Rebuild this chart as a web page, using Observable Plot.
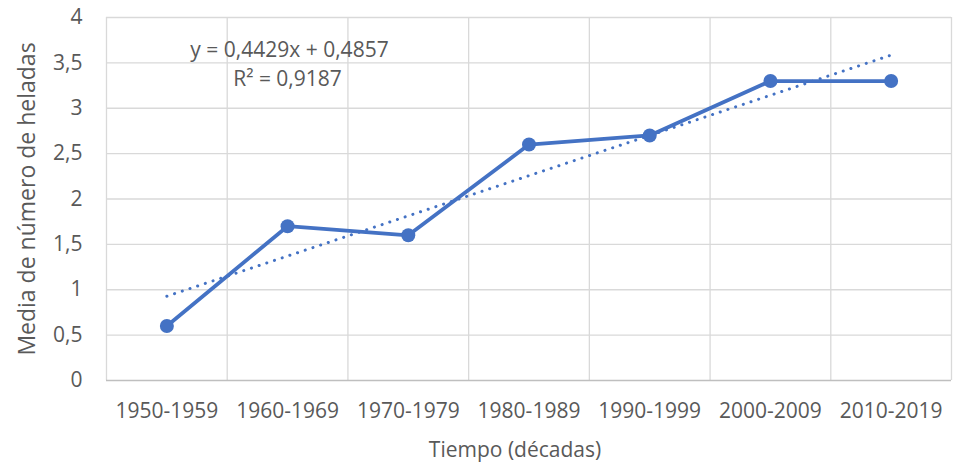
<!DOCTYPE html>
<html>
<head>
<meta charset="utf-8">
<script src="https://cdn.jsdelivr.net/npm/d3@7"></script>
<script src="https://cdn.jsdelivr.net/npm/@observablehq/plot@0.6"></script>
<style>
  html, body { margin: 0; padding: 0; background: #fff; }
  #chart svg { display: block; }
</style>
</head>
<body>
<div id="chart"></div>
<script>
const decades = ["1950-1959", "1960-1969", "1970-1979", "1980-1989", "1990-1999", "2000-2009", "2010-2019"];
const heladas = [0.6, 1.7, 1.6, 2.6, 2.7, 3.3, 3.3];
const yTicks = [0, 0.5, 1, 1.5, 2, 2.5, 3, 3.5, 4];
const eqText = "y = 0,4429x + 0,4857";
const r2Text = "R² = 0,9187";
const xTitle = "Tiempo (décadas)";
const yTitle = "Media de número de heladas";

const data = decades.map((d, i) => ({i: i + 1, decade: d, v: heladas[i]}));
const xGrid = decades.map((d, i) => i + 0.5).concat([decades.length + 0.5]);
const fmt = d => String(d).replace(".", ",");

const blue = "#4472c4";
const txt = "#595959";

const chart = Plot.plot({
  width: 962,
  height: 468,
  marginLeft: 106,
  marginRight: 11,
  marginTop: 17,
  marginBottom: 88,
  style: {fontFamily: "'Open Sans', sans-serif", fontSize: "21px", color: txt, background: "#fff"},
  x: {domain: [0.5, decades.length + 0.5]},
  y: {domain: [0, 4]},
  marks: [
    Plot.ruleY(yTicks.filter(d => d > 0), {stroke: "#d9d9d9", strokeWidth: 1.3, strokeOpacity: 1}),
    Plot.ruleX(xGrid, {stroke: "#d9d9d9", strokeWidth: 1.3, strokeOpacity: 1}),
    Plot.ruleY([0], {stroke: "#bfbfbf", strokeWidth: 1.3, strokeOpacity: 1}),
    Plot.axisY({ticks: yTicks, tickFormat: fmt, tickSize: 0, tickPadding: 24, fill: txt, fontSize: 21, label: null}),
    Plot.axisY({ticks: [], tickSize: 0, label: yTitle, labelAnchor: "center", labelArrow: "none", labelOffset: 88, fill: txt, fontSize: 23}),
    Plot.axisX({ticks: data.map(d => d.i), tickFormat: (d) => decades[d - 1], tickSize: 0, tickPadding: 23, fill: txt, fontSize: 21, label: null}),
    Plot.text([xTitle], {frameAnchor: "bottom", dx: -14, dy: 70, textAnchor: "middle", lineAnchor: "middle", fill: txt, fontSize: 21}),
    Plot.linearRegressionY(data, {x: "i", y: "v", ci: 0, stroke: blue, strokeWidth: 3, strokeDasharray: "0.1 8", strokeLinecap: "round"}),
    Plot.line(data, {x: "i", y: "v", stroke: blue, strokeWidth: 3.8}),
    Plot.dot(data, {x: "i", y: "v", r: 7, fill: blue, stroke: "none"}),
    Plot.text([eqText], {frameAnchor: "top-left", dx: 183, dy: 33, textAnchor: "middle", lineAnchor: "middle", fill: txt, fontSize: 21}),
    Plot.text([r2Text], {frameAnchor: "top-left", dx: 181, dy: 62, textAnchor: "middle", lineAnchor: "middle", fill: txt, fontSize: 21})
  ]
});
document.getElementById("chart").append(chart);
</script>
</body>
</html>
